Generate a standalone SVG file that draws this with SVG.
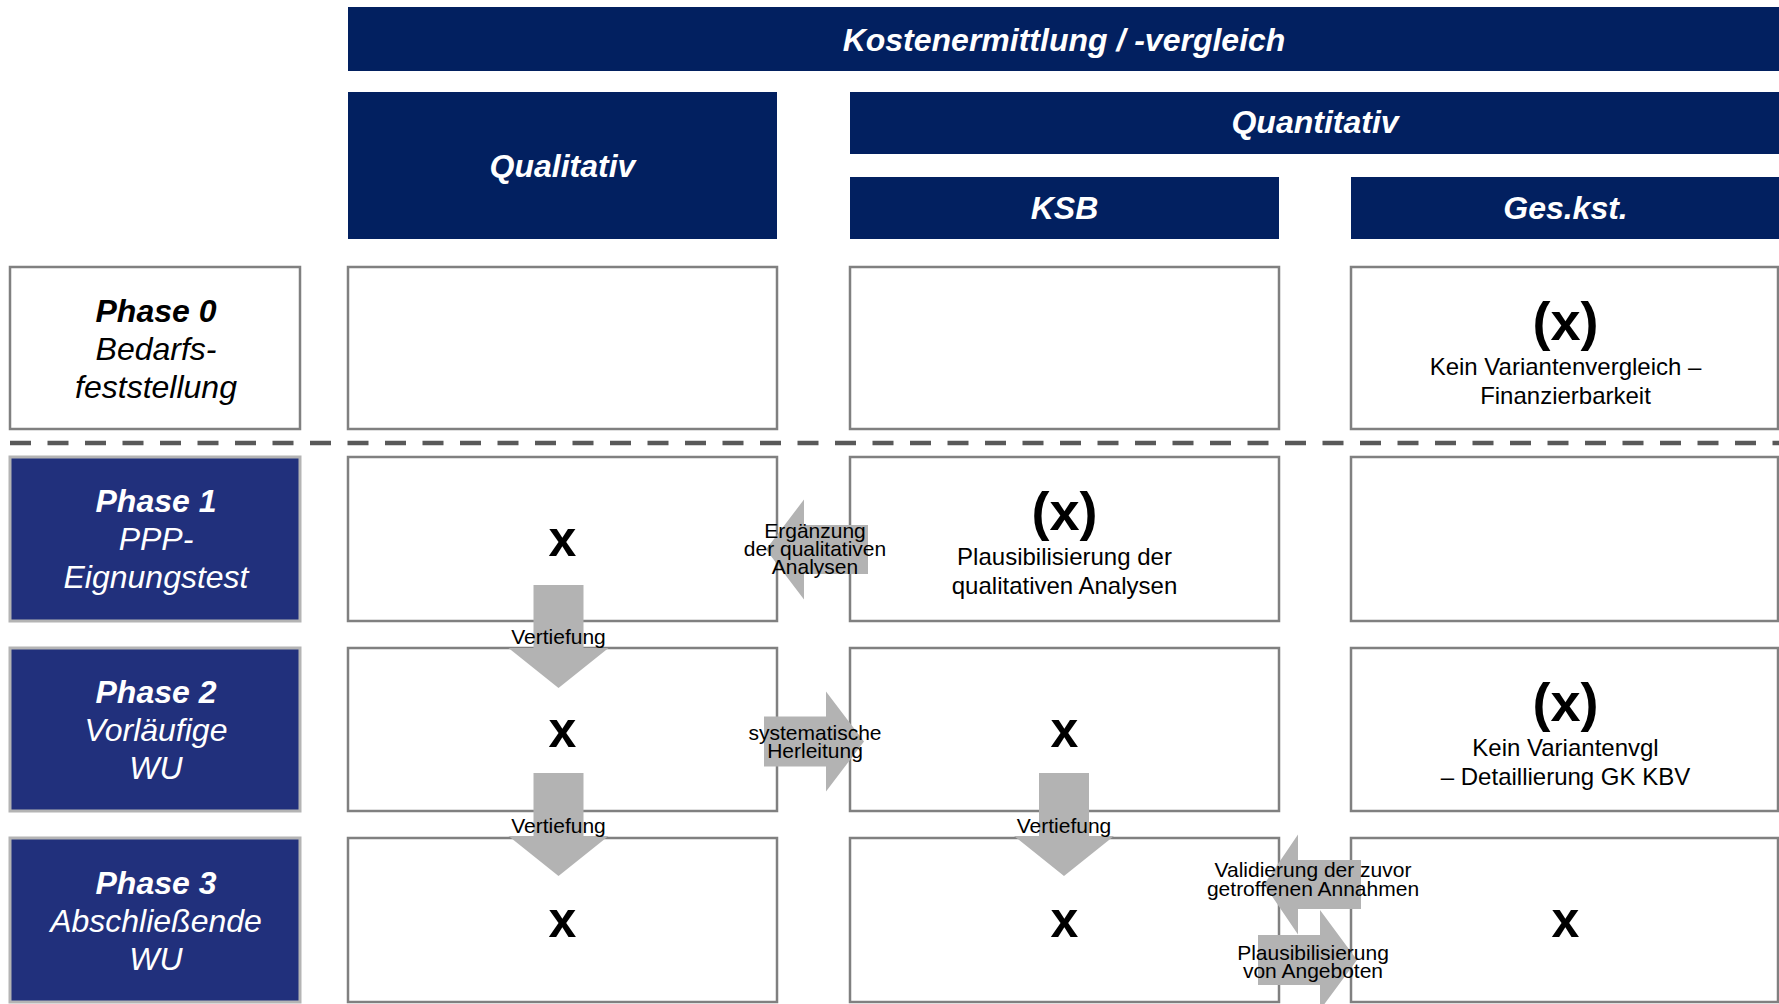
<svg xmlns="http://www.w3.org/2000/svg" width="1779" height="1004" viewBox="0 0 1779 1004">
<style>
text{font-family:"Liberation Sans",Arial,sans-serif;text-anchor:middle}
.hdr{fill:#022060}
.hdrt{fill:#fff;font-size:32px;font-weight:bold;font-style:italic}
.cell{fill:#fff;stroke:#808080;stroke-width:2.5}
.ph{fill:#21307c;stroke:#b4b4b4;stroke-width:3}
.pht{fill:#fff;font-size:32px;font-style:italic}
.ph0t{fill:#000;font-size:32px;font-style:italic}
.b{font-weight:bold}
.xx{font-size:50px;font-weight:bold;fill:#000}
.px{font-size:54px;font-weight:bold;fill:#000}
.d{font-size:24px;fill:#000}
.arr{fill:#b3b3b3}
.al{font-size:21px;fill:#000}
</style>
<rect width="1779" height="1004" fill="#fff"/>
<g id="header-kosten"><rect class="hdr" x="348" y="7" width="1432" height="64"/><text class="hdrt" x="1064" y="51">Kostenermittlung / -vergleich</text></g>
<g id="header-qualitativ"><rect class="hdr" x="348" y="92" width="429" height="147"/><text class="hdrt" x="562.5" y="177">Qualitativ</text></g>
<g id="header-quantitativ"><rect class="hdr" x="850" y="92" width="930" height="62"/><text class="hdrt" x="1315" y="133">Quantitativ</text></g>
<g id="header-ksb"><rect class="hdr" x="850" y="177" width="429" height="62"/><text class="hdrt" x="1064.5" y="219">KSB</text></g>
<g id="header-geskst"><rect class="hdr" x="1351" y="177" width="429" height="62"/><text class="hdrt" x="1565.5" y="219">Ges.kst.</text></g>

<g id="phase0"><rect class="cell" x="10" y="267" width="290" height="162"/><text class="ph0t" x="156" y="322"><tspan class="b">Phase 0</tspan></text><text class="ph0t" x="156" y="360">Bedarfs-</text><text class="ph0t" x="156" y="398">feststellung</text></g>
<g id="phase1"><rect class="ph" x="10" y="457" width="290" height="164"/><text class="pht" x="156" y="512"><tspan class="b">Phase 1</tspan></text><text class="pht" x="156" y="550">PPP-</text><text class="pht" x="156" y="588">Eignungstest</text></g>
<g id="phase2"><rect class="ph" x="10" y="648" width="290" height="163"/><text class="pht" x="156" y="703"><tspan class="b">Phase 2</tspan></text><text class="pht" x="156" y="741">Vorläufige</text><text class="pht" x="156" y="779">WU</text></g>
<g id="phase3"><rect class="ph" x="10" y="838" width="290" height="164"/><text class="pht" x="156" y="894"><tspan class="b">Phase 3</tspan></text><text class="pht" x="156" y="932">Abschließende</text><text class="pht" x="156" y="970">WU</text></g>

<g id="q0"><rect class="cell" x="348" y="267" width="429" height="162"/></g>
<g id="k0"><rect class="cell" x="850" y="267" width="429" height="162"/></g>
<g id="g0"><rect class="cell" x="1351" y="267" width="427" height="162"/><text class="px" x="1565.5" y="340">(x)</text><text class="d" x="1565.5" y="375">Kein Variantenvergleich –</text><text class="d" x="1565.5" y="403.5">Finanzierbarkeit</text></g>

<g id="q1"><rect class="cell" x="348" y="457" width="429" height="164"/><text class="xx" x="562.5" y="556">x</text></g>
<g id="k1"><rect class="cell" x="850" y="457" width="429" height="164"/><text class="px" x="1064.5" y="530">(x)</text><text class="d" x="1064.5" y="565">Plausibilisierung der</text><text class="d" x="1064.5" y="593.5">qualitativen Analysen</text></g>
<g id="g1"><rect class="cell" x="1351" y="457" width="427" height="164"/></g>

<g id="q2"><rect class="cell" x="348" y="648" width="429" height="163"/><text class="xx" x="562.5" y="747">x</text></g>
<g id="k2"><rect class="cell" x="850" y="648" width="429" height="163"/><text class="xx" x="1064.5" y="747">x</text></g>
<g id="g2"><rect class="cell" x="1351" y="648" width="427" height="163"/><text class="px" x="1565.5" y="721">(x)</text><text class="d" x="1565.5" y="756">Kein Variantenvgl</text><text class="d" x="1565.5" y="784.5">– Detaillierung GK KBV</text></g>

<g id="q3"><rect class="cell" x="348" y="838" width="429" height="164"/><text class="xx" x="562.5" y="937">x</text></g>
<g id="k3"><rect class="cell" x="850" y="838" width="429" height="164"/><text class="xx" x="1064.5" y="937">x</text></g>
<g id="g3"><rect class="cell" x="1351" y="838" width="427" height="164"/><text class="xx" x="1565.5" y="937">x</text></g>

<g id="connectors">
<line x1="10" y1="443" x2="1779" y2="443" stroke="#595959" stroke-width="4.5" stroke-dasharray="21 16.5"/>
<path class="arr" d="M868,525 H804 V499.5 L766,549.5 L804,599.5 V574 H868 Z"/>
<path class="arr" d="M764,716.5 H826 V691.5 L864,741.5 L826,791.5 V766.5 H764 Z"/>
<path class="arr" d="M533.5,585 H583.5 V648 H608.5 L558.5,688 L508.5,648 H533.5 Z"/>
<path class="arr" d="M533.5,773 H583.5 V836 H608.5 L558.5,876 L508.5,836 H533.5 Z"/>
<path class="arr" d="M1039,773 H1089 V836 H1114 L1064,876 L1014,836 H1039 Z"/>
<path class="arr" d="M1361,860 H1298 V834.5 L1264,884.5 L1298,934.5 V909 H1361 Z"/>
<path class="arr" d="M1258,935 H1320 V910 L1357,960 L1320,1010 V985 H1258 Z"/>
<text class="al" x="815" y="538">Ergänzung</text>
<text class="al" x="815" y="556">der qualitativen</text>
<text class="al" x="815" y="574">Analysen</text>
<text class="al" x="815" y="740">systematische</text>
<text class="al" x="815" y="758">Herleitung</text>
<text class="al" x="558.5" y="644">Vertiefung</text>
<text class="al" x="558.5" y="833">Vertiefung</text>
<text class="al" x="1064" y="833">Vertiefung</text>
<text class="al" x="1313" y="877">Validierung der zuvor</text>
<text class="al" x="1313" y="896">getroffenen Annahmen</text>
<text class="al" x="1313" y="960">Plausibilisierung</text>
<text class="al" x="1313" y="978">von Angeboten</text>
</g>
</svg>
